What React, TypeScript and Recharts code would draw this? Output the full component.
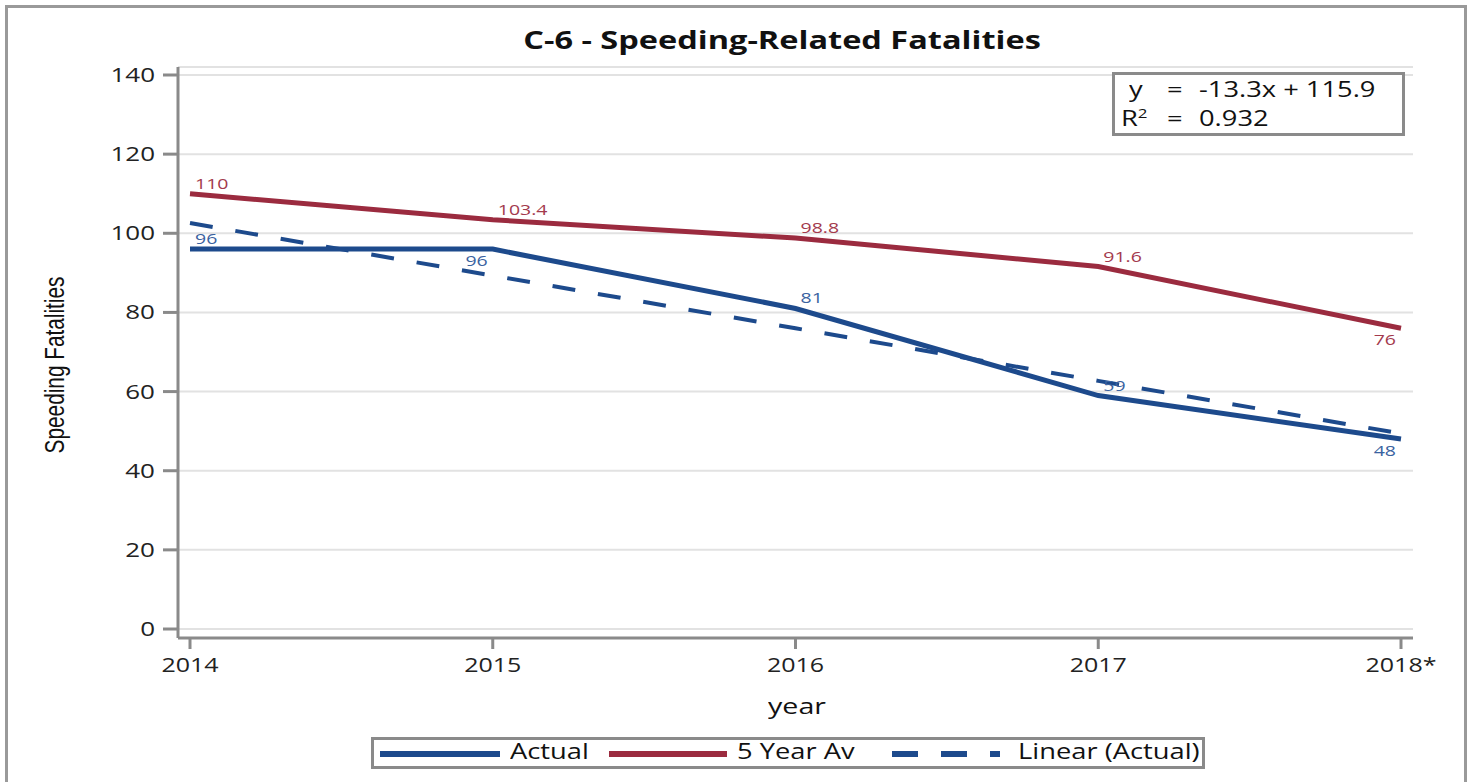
import { LineChart, Line, XAxis, YAxis, CartesianGrid, LabelList } from "recharts";

const years = ["2014", "2015", "2016", "2017", "2018*"];
const actual = [96, 96, 81, 59, 48];
const fiveYearAv = [110, 103.4, 98.8, 91.6, 76];
const linearActual = [102.6, 89.3, 76.0, 62.7, 49.4];
const yTicks = [0, 20, 40, 60, 80, 100, 120, 140];

const data = years.map((year, i) => ({
  year,
  actual: actual[i],
  avg: fiveYearAv[i],
  linear: linearActual[i],
}));

// label placement per point: "ar" = above right, "bl" = below left
const actualPlace = ["ar", "bl", "ar", "ar", "bl"];
const avgPlace = ["ar", "ar", "ar", "ar", "bl"];

const BLUE = "#1d4a8c";
const RED = "#9b2b3f";
const FRAME = "#8a8a8a";
const FONT = "'Open Sans', sans-serif";
const SX = 1.3; // the original render is stretched sideways

function makeLabel(place: string[], color: string) {
  return (props: any) => {
    const { x, y, value, index } = props;
    const above = place[index] === "ar";
    return (
      <g transform={`translate(${above ? x + 5 : x - 5},${above ? y - 5 : y + 17}) scale(${SX},1)`}>
        <text x={0} y={0} textAnchor={above ? "start" : "end"} fill={color} fontSize={15} fontFamily={FONT}>
          {value}
        </text>
      </g>
    );
  };
}

function XTick(props: any) {
  const { x, y, payload } = props;
  return (
    <g transform={`translate(${x},${y + 21}) scale(1.25,1)`}>
      <text x={0} y={0} textAnchor="middle" fill="#222" fontSize={20} fontFamily={FONT}>
        {payload.value}
      </text>
    </g>
  );
}

function YTick(props: any) {
  const { x, y, payload } = props;
  return (
    <g transform={`translate(${x - 6},${y + 7}) scale(${SX},1)`}>
      <text x={0} y={0} textAnchor="end" fill="#222" fontSize={20} fontFamily={FONT}>
        {payload.value}
      </text>
    </g>
  );
}

const stretched = (left: number, top: number, size: number, text: React.ReactNode, extra: any = {}) => (
  <div
    style={{
      position: "absolute",
      left,
      top,
      whiteSpace: "nowrap",
      fontFamily: FONT,
      fontSize: size,
      color: "#111",
      transform: `scaleX(${SX})`,
      transformOrigin: "left center",
      ...extra,
    }}
  >
    {text}
  </div>
);

function LegendBox() {
  const swatch = (left: number, w: number, color: string, dash?: string) => (
    <svg style={{ position: "absolute", left, top: 10 }} width={w} height={8}>
      <line x1={0} y1={4} x2={w} y2={4} stroke={color} strokeWidth={6} strokeDasharray={dash} />
    </svg>
  );
  return (
    <div
      style={{
        position: "absolute",
        left: 371,
        top: 737,
        width: 834,
        height: 32,
        boxSizing: "border-box",
        border: `3px solid ${FRAME}`,
        background: "#fff",
      }}
    >
      {swatch(6, 120, BLUE)}
      {stretched(136, -3, 21, "Actual")}
      {swatch(235, 118, RED)}
      {stretched(363, -3, 21, "5 Year Av")}
      {swatch(518, 108, BLUE, "26 23")}
      {stretched(644, -3, 21, "Linear (Actual)")}
    </div>
  );
}

export default function App() {
  return (
    <div style={{ position: "absolute", left: 0, top: 0, width: 1471, height: 782, background: "#fff", overflow: "hidden" }}>
      <div
        style={{
          position: "absolute",
          left: 5,
          top: 5,
          width: 1462,
          height: 800,
          boxSizing: "border-box",
          border: "3px solid #9a9a9a",
        }}
      />
      <div
        style={{
          position: "absolute",
          left: 782,
          top: 22,
          whiteSpace: "nowrap",
          fontFamily: FONT,
          fontWeight: 700,
          fontSize: 25,
          color: "#111",
          transform: `translateX(-50%) scaleX(${SX})`,
        }}
      >
        C-6 - Speeding-Related Fatalities
      </div>
      <div
        style={{
          position: "absolute",
          left: 55,
          top: 365,
          transform: "translate(-50%, -50%) rotate(-90deg) scaleX(0.77)",
          whiteSpace: "nowrap",
          fontFamily: "'Liberation Sans', Arial, sans-serif",
          fontSize: 27,
          color: "#111",
        }}
      >
        Speeding Fatalities
      </div>
      <div style={{ position: "absolute", left: 0, top: 0 }}>
        <LineChart width={1471} height={782} data={data} margin={{ top: 67, right: 58, bottom: 114, left: 118 }}>
          <CartesianGrid vertical={false} stroke="#e2e2e2" strokeWidth={2} />
          <XAxis
            dataKey="year"
            padding={{ left: 12, right: 12 }}
            height={30}
            stroke={FRAME}
            strokeWidth={3}
            tickSize={11}
            tickLine={{ stroke: FRAME, strokeWidth: 3 }}
            tick={<XTick />}
            interval={0}
          />
          <XAxis
            xAxisId="top"
            dataKey="year"
            orientation="top"
            height={0}
            tick={false}
            tickLine={false}
            stroke={FRAME}
            strokeWidth={3}
          />
          <YAxis
            domain={[-2.27, 142.02]}
            ticks={yTicks}
            width={60}
            stroke={FRAME}
            strokeWidth={3}
            tickSize={15}
            tickLine={{ stroke: FRAME, strokeWidth: 3 }}
            tick={<YTick />}
            allowDataOverflow
          />
          <YAxis
            yAxisId="right"
            orientation="right"
            width={0}
            tick={false}
            tickLine={false}
            stroke={FRAME}
            strokeWidth={3}
          />
          <Line
            dataKey="linear"
            stroke={BLUE}
            strokeWidth={4}
            strokeDasharray="23 23"
            dot={false}
            isAnimationActive={false}
          />
          <Line dataKey="avg" stroke={RED} strokeWidth={5} dot={false} isAnimationActive={false}>
            <LabelList dataKey="avg" content={makeLabel(avgPlace, "#a33a4d")} />
          </Line>
          <Line dataKey="actual" stroke={BLUE} strokeWidth={5} dot={false} isAnimationActive={false}>
            <LabelList dataKey="actual" content={makeLabel(actualPlace, "#3a62a0")} />
          </Line>
        </LineChart>
      </div>
      <div
        style={{
          position: "absolute",
          left: 1112,
          top: 72,
          width: 293,
          height: 64,
          boxSizing: "border-box",
          border: `3px solid ${FRAME}`,
          background: "#fff",
        }}
      >
        {stretched(14, 0, 21, "y")}
        {stretched(52, 0, 21, "=")}
        {stretched(84, 0, 21, "-13.3x + 115.9")}
        {stretched(6, 29, 21, <span>R<sup style={{ fontSize: 13 }}>2</sup></span>)}
        {stretched(52, 29, 21, "=")}
        {stretched(84, 29, 21, "0.932")}
      </div>
      {stretched(768, 690, 22, "year")}
      <LegendBox />
    </div>
  );
}
